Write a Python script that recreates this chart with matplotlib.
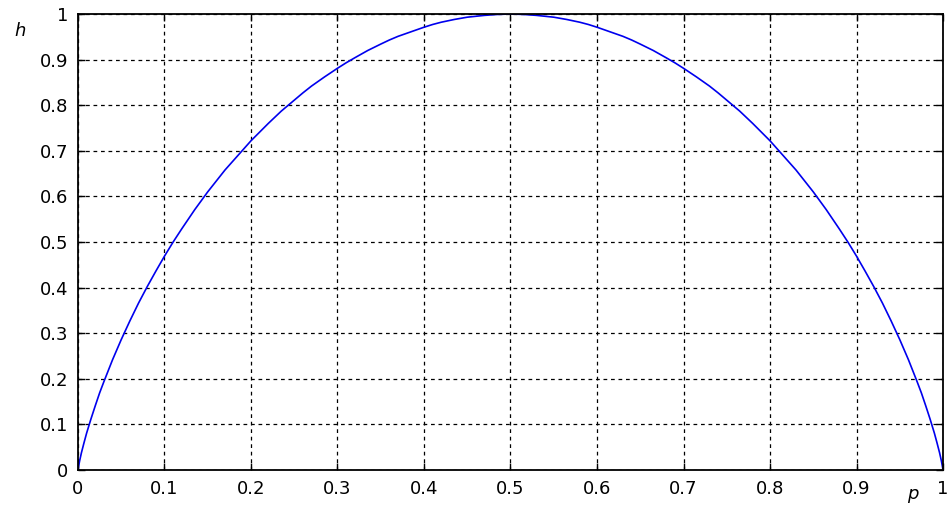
import matplotlib
matplotlib.use("Agg")
from matplotlib import pyplot as plt

# values
p = [0, 0.001, 0.002, 0.004, 0.007, 0.01, 0.015, 0.02, 0.025, 0.03, 0.04, 0.05,
     0.06, 0.07, 0.08, 0.09, 0.1, 0.11, 0.12, 0.135, 0.15, 0.16, 0.17, 0.185,
     0.2, 0.21, 0.22, 0.235, 0.25, 0.26, 0.27, 0.285, 0.3, 0.31, 0.32, 0.335,
     0.35, 0.36, 0.37, 0.385, 0.4, 0.41, 0.42, 0.435, 0.45, 0.46, 0.47, 0.485,
     0.5, 0.515, 0.53, 0.54, 0.55, 0.565, 0.58, 0.59, 0.6, 0.615, 0.63, 0.64,
     0.65, 0.665, 0.68, 0.69, 0.7, 0.715, 0.73, 0.74, 0.75, 0.765, 0.78, 0.79,
     0.8, 0.815, 0.83, 0.84, 0.85, 0.865, 0.88, 0.89, 0.9, 0.91, 0.92, 0.93,
     0.94, 0.95, 0.96, 0.97, 0.975, 0.98, 0.985, 0.99, 0.993, 0.996, 0.998,
     0.999, 1]
h = [0, 0.011, 0.021, 0.038, 0.060, 0.081, 0.112, 0.141, 0.169, 0.194, 0.242,
     0.286, 0.327, 0.366, 0.402, 0.436, 0.469, 0.500, 0.529, 0.571, 0.610,
     0.634, 0.658, 0.690, 0.722, 0.741, 0.760, 0.787, 0.811, 0.827, 0.842,
     0.862, 0.881, 0.893, 0.904, 0.920, 0.934, 0.943, 0.951, 0.961, 0.971,
     0.977, 0.982, 0.988, 0.993, 0.995, 0.997, 0.999, 1.0, 0.999, 0.997,
     0.995, 0.993, 0.988, 0.982, 0.977, 0.971, 0.961, 0.951, 0.943, 0.934,
     0.920, 0.904, 0.893, 0.881, 0.862, 0.842, 0.827, 0.811, 0.787, 0.760,
     0.741, 0.722, 0.690, 0.658, 0.634, 0.610, 0.571, 0.529, 0.500, 0.469,
     0.436, 0.402, 0.366, 0.327, 0.286, 0.242, 0.194, 0.169, 0.141, 0.112,
     0.081, 0.060, 0.038, 0.021, 0.011, 0]

xticks = [0, 0.1, 0.2, 0.3, 0.4, 0.5, 0.6, 0.7, 0.8, 0.9, 1]
yticks = [0, 0.1, 0.2, 0.3, 0.4, 0.5, 0.6, 0.7, 0.8, 0.9, 1]
tick_labels = ['0', '0.1', '0.2', '0.3', '0.4', '0.5', '0.6', '0.7', '0.8', '0.9', '1']

plt.rcParams['font.family'] = ['DejaVu Sans']

fig = plt.figure(figsize=(9.51, 5.09), dpi=100)
ax = fig.add_axes([0.082, 0.0766, 0.9096, 0.8959])

ax.plot(p, h, color='#0000ee', lw=1.2)

ax.set_xlim(0, 1)
ax.set_ylim(0, 1)
ax.set_xticks(xticks)
ax.set_xticklabels(tick_labels)
ax.set_yticks(yticks)
ax.set_yticklabels(tick_labels)
ax.tick_params(direction='in', top=True, right=True, length=5, width=1,
               labelsize=13)
ax.tick_params(axis='x', pad=7)
ax.tick_params(axis='y', pad=7)
ax.grid(True, color='black', linestyle=(0, (3, 3)), lw=0.9)
for s in ax.spines.values():
    s.set_linewidth(1.3)

fig.text(20 / 951, 1 - 31 / 509, 'h', fontsize=13, style='italic',
         ha='center', va='center')
fig.text(913 / 951, 1 - 494 / 509, 'p', fontsize=13, style='italic',
         ha='center', va='center')

fig.savefig('out.png', dpi=100)
